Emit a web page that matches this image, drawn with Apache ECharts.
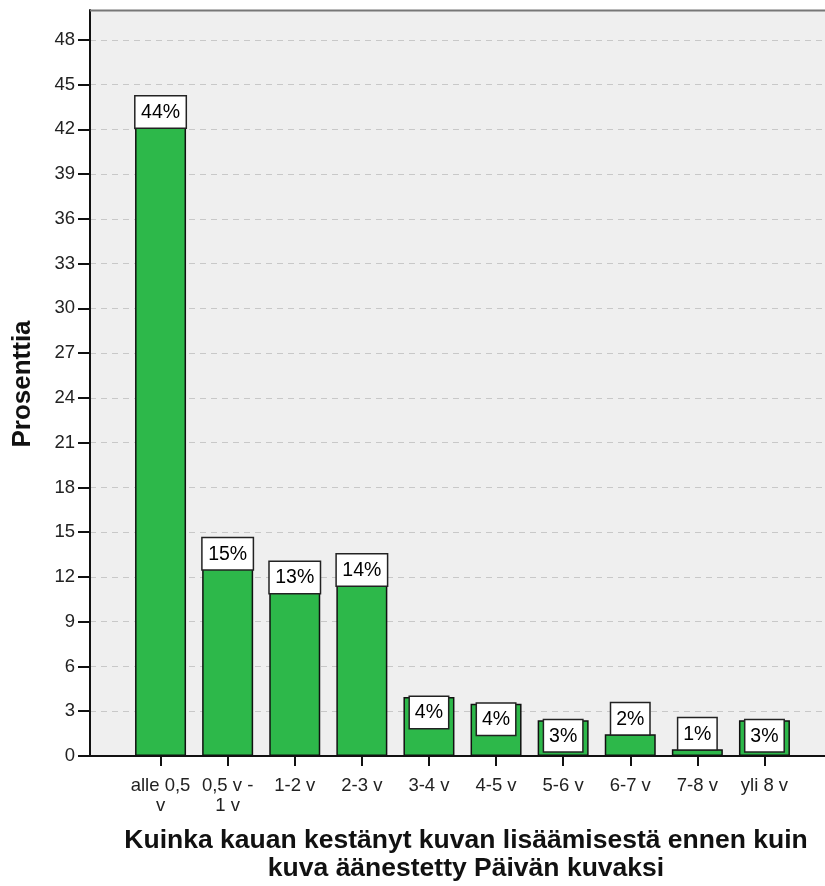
<!DOCTYPE html>
<html>
<head>
<meta charset="utf-8">
<script src="https://cdn.jsdelivr.net/npm/echarts@6/dist/echarts.min.js"></script>
<style>
html,body{margin:0;padding:0;background:#fff;}
#chart{width:825px;height:886px;}
</style>
</head>
<body>
<div id="chart"></div>
<script>
const categories = ['alle 0,5\nv', '0,5 v -\n1 v', '1-2 v', '2-3 v', '3-4 v', '4-5 v', '5-6 v', '6-7 v', '7-8 v', 'yli 8 v'];
const values = [44.2, 14.6, 13.0, 13.5, 3.95, 3.5, 2.4, 1.45, 0.45, 2.4];
const pctLabels = ['44%', '15%', '13%', '14%', '4%', '4%', '3%', '2%', '1%', '3%'];
const yTicks = [0, 3, 6, 9, 12, 15, 18, 21, 24, 27, 30, 33, 36, 39, 42, 45, 48];
const yMax = 50;
const yTitle = 'Prosenttia';
const xTitle = 'Kuinka kauan kestänyt kuvan lisäämisestä ennen kuin\nkuva äänestetty Päivän kuvaksi';

const FONT = 'Liberation Sans, Arial, sans-serif';
const chart = echarts.init(document.getElementById('chart'), null, {renderer: 'canvas'});

const barData = values.map((v, i) => ({
  value: v,
  label: {
    formatter: pctLabels[i],
    position: v >= 2.2 ? 'insideTop' : 'top',
    width: pctLabels[i].length > 2 ? 38 : 26
  }
}));

const option = {
  animation: false,
  backgroundColor: '#ffffff',
  grid: [
    {left: 90, right: -10, top: 10, bottom: 130, show: true, backgroundColor: '#efefef', borderWidth: 0},
    {left: 127, width: 671, top: 10, bottom: 130}
  ],
  xAxis: [
    {
      gridIndex: 0, type: 'value', min: 0, max: 1,
      axisLine: {show: true, onZero: false, lineStyle: {color: '#111', width: 2}},
      axisTick: {show: false}, axisLabel: {show: false}, splitLine: {show: false}
    },
    {
      gridIndex: 1, type: 'category', data: categories,
      axisLine: {show: false},
      axisTick: {show: true, alignWithLabel: true, length: 10, lineStyle: {color: '#111', width: 2}},
      axisLabel: {fontFamily: FONT, fontSize: 18.5, color: '#222', lineHeight: 20, margin: 20, interval: 0}
    }
  ],
  yAxis: [
    {
      gridIndex: 0, type: 'value', min: 0, max: yMax, interval: 3,
      axisLine: {show: true, lineStyle: {color: '#111', width: 2}},
      axisTick: {show: true, length: 12, lineStyle: {color: '#111', width: 2}, customValues: yTicks},
      axisLabel: {fontFamily: FONT, fontSize: 18.5, color: '#222', margin: 15, customValues: yTicks},
      splitLine: {show: true, lineStyle: {color: '#c8c8c8', type: [6, 5], width: 1}}
    },
    {
      gridIndex: 1, type: 'value', min: 0, max: yMax, show: false,
      splitLine: {show: false}
    }
  ],
  series: [
    {
      type: 'bar', xAxisIndex: 1, yAxisIndex: 1,
      data: barData,
      barWidth: 51,
      itemStyle: {color: '#2db84a', borderColor: '#111', borderWidth: 1.5},
      label: {
        show: true, distance: 0,
        fontFamily: FONT, fontSize: 19.5, color: '#000', align: 'center',
        backgroundColor: '#ffffff', borderColor: '#222', borderWidth: 1.5,
        padding: [6, 6, 5, 6]
      }
    }
  ],
  graphic: [
    {type: 'line', shape: {x1: 90, y1: 10.5, x2: 825, y2: 10.5}, style: {stroke: '#777', lineWidth: 2}, z: 10},
    {
      type: 'text', x: 23, y: 384, rotation: Math.PI / 2,
      style: {text: yTitle, fontFamily: FONT, fontSize: 26, fontWeight: 'bold', fill: '#111', align: 'center', verticalAlign: 'middle'}
    },
    {
      type: 'text', x: 466, y: 827,
      style: {text: xTitle, fontFamily: FONT, fontSize: 26.5, fontWeight: 'bold', fill: '#111', align: 'center', verticalAlign: 'top', lineHeight: 28}
    }
  ]
};
chart.setOption(option);
</script>
</body>
</html>
